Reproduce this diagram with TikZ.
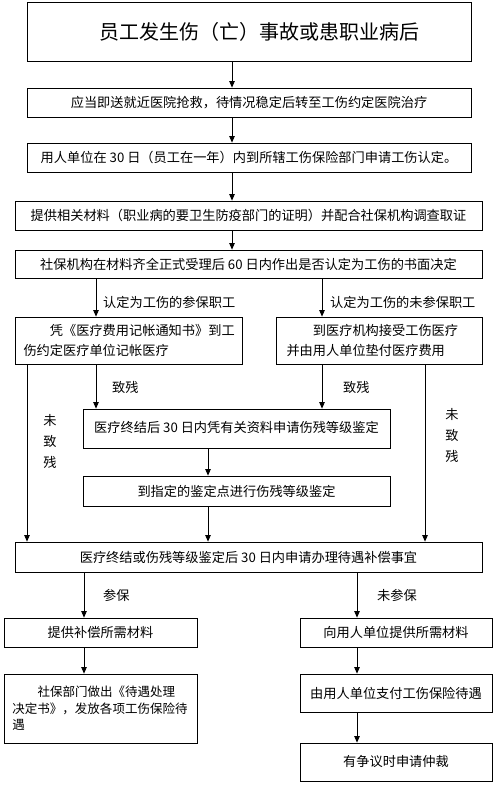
\documentclass[tikz,border=0pt]{standalone}
\usepackage{fontspec}
\setmainfont{Noto Sans CJK SC}
\usetikzlibrary{arrows.meta}
\newcommand\myfs{\fontsize{13.2}{20}\selectfont}
\newcommand\mysmallfs{\fontsize{12.5}{16.7}\selectfont}
\newcommand\mytitlefs{\fontsize{20}{24}\selectfont}
\begin{document}
\begin{tikzpicture}[x=1pt,y=-1pt,
  box/.style={draw, line width=0.8pt, inner sep=0pt, font=\myfs},
  lbl/.style={inner sep=0pt, font=\myfs, anchor=west},
  vlbl/.style={inner sep=0pt, font=\fontsize{13.2}{21}\selectfont, align=center},
  arr/.style={line width=0.8pt, -{Triangle[length=6.5pt,width=5.5pt]}}]
\fill[white] (0,0) rectangle (500,789);
\useasboundingbox (0,0) rectangle (500,789);

\node[box, minimum width=444, minimum height=59, font=\mytitlefs] (b1) at (249,31.5) {\hspace*{20pt}员工发生伤（亡）事故或患职业病后};
\node[box, minimum width=444, minimum height=29] (b2) at (249,102.5) {应当即送就近医院抢救，待情况稳定后转至工伤约定医院治疗};
\node[box, minimum width=444, minimum height=29] (b3) at (249,157.5) {用人单位在 30 日（员工在一年）内到所辖工伤保险部门申请工伤认定。};
\node[box, minimum width=467, minimum height=29] (b4) at (248.5,215.5) {提供相关材料（职业病的要卫生防疫部门的证明）并配合社保机构调查取证};
\node[box, minimum width=467, minimum height=28] (b5) at (248.5,264) {社保机构在材料齐全正式受理后 60 日内作出是否认定为工伤的书面决定};
\node[box, minimum width=227, minimum height=47, text width=210, align=left] (b6l) at (128.5,340.5) {\hspace*{2em}凭《医疗费用记帐通知书》到工\\伤约定医疗单位记帐医疗};
\node[box, minimum width=206, minimum height=47, text width=185, align=left] (b6r) at (379,340.5) {\hspace*{2em}到医疗机构接受工伤医疗\\并由用人单位垫付医疗费用};
\node[box, minimum width=307, minimum height=39] (b7) at (236.5,428.5) {\raisebox{3pt}{医疗终结后 30 日内凭有关资料申请伤残等级鉴定}};
\node[box, minimum width=307, minimum height=30] (b8) at (236.5,491) {到指定的鉴定点进行伤残等级鉴定};
\node[box, minimum width=467, minimum height=30] (b9) at (248.5,557) {医疗终结或伤残等级鉴定后 30 日内申请办理待遇补偿事宜};
\node[box, minimum width=193, minimum height=29] (b10l) at (100.5,632.5) {提供补偿所需材料};
\node[box, minimum width=192, minimum height=29] (b10r) at (396,632.5) {向用人单位提供所需材料};
\node[box, minimum width=193, minimum height=69, text width=176, align=left, font=\mysmallfs] (b11l) at (100.5,708.5) {\hspace*{2em}社保部门做出《待遇处理\\决定书》，发放各项工伤保险待\\遇};
\node[box, minimum width=192, minimum height=38] (b11r) at (396,693) {由用人单位支付工伤保险待遇};
\node[box, minimum width=192, minimum height=38] (b12) at (396,762) {有争议时申请仲裁};

\draw[arr] (b1.south -| 232,0) -- (b2.north -| 232,0);
\draw[arr] (b2.south -| 232,0) -- (b3.north -| 232,0);
\draw[arr] (b3.south -| 232,0) -- (b4.north -| 232,0);
\draw[arr] (b4.south -| 232,0) -- (b5.north -| 232,0);
\draw[arr] (b5.south -| 96,0) -- (b6l.north -| 96,0);
\draw[arr] (b5.south -| 322,0) -- (b6r.north -| 322,0);
\draw[arr] (b6l.south -| 96,0) -- (b7.north -| 96,0);
\draw[arr] (b6r.south -| 322,0) -- (b7.north -| 322,0);
\draw[arr] (b6l.south -| 27,0) -- (b9.north -| 27,0);
\draw[arr] (b6r.south -| 425,0) -- (b9.north -| 425,0);
\draw[arr] (b7.south -| 208,0) -- (b8.north -| 208,0);
\draw[arr] (b8.south -| 208,0) -- (b9.north -| 208,0);
\draw[arr] (b9.south -| 84,0) -- (b10l.north -| 84,0);
\draw[arr] (b9.south -| 357,0) -- (b10r.north -| 357,0);
\draw[arr] (b10l.south -| 84,0) -- (b11l.north -| 84,0);
\draw[arr] (b10r.south -| 357,0) -- (b11r.north -| 357,0);
\draw[arr] (b11r.south -| 357,0) -- (b12.north -| 357,0);

\node[lbl] (l1) at (103,302) {认定为工伤的参保职工};
\node[lbl] (l2) at (330,302) {认定为工伤的未参保职工};
\node[lbl] (l3) at (112,387) {致残};
\node[lbl] (l4) at (343,387) {致残};
\node[vlbl] (l5) at (50,441) {未\\致\\残};
\node[vlbl] (l6) at (452,435) {未\\致\\残};
\node[lbl] (l7) at (103,595) {参保};
\node[lbl] (l8) at (377,595) {未参保};
\end{tikzpicture}
\end{document}
